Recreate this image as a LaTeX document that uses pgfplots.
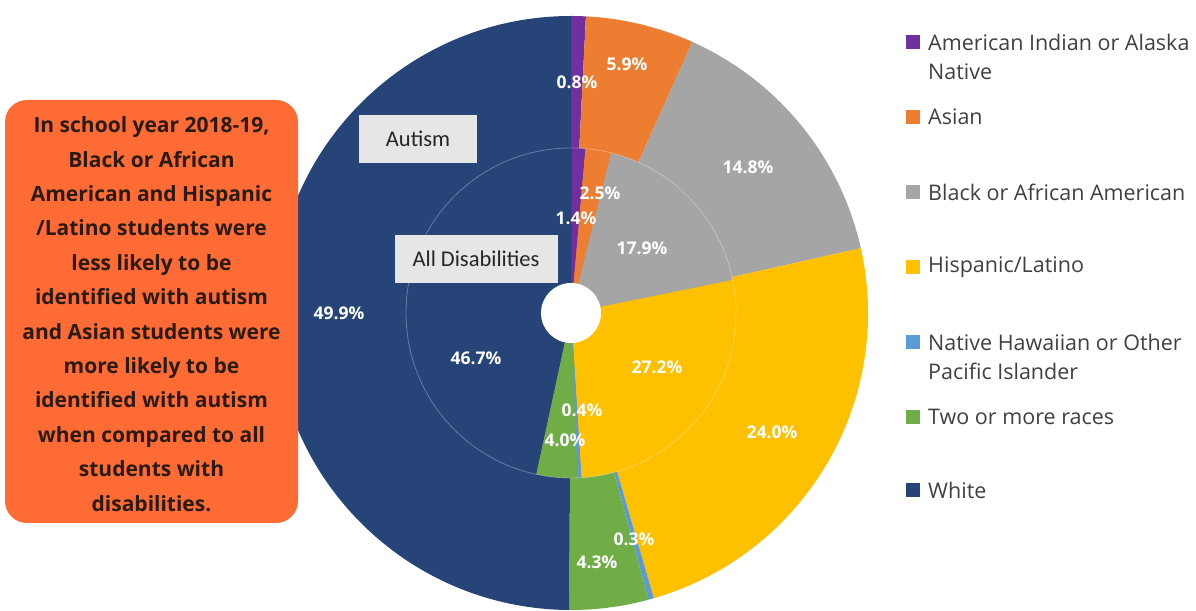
\documentclass[border=0pt]{standalone}
\usepackage{pgfplots}
\pgfplotsset{compat=1.18}
\usepackage{fontspec}
\setmainfont{Open Sans}
\newfontfamily\calib{Carlito}
\definecolor{cAIAN}{HTML}{7030A0}
\definecolor{cAsian}{HTML}{ED7D31}
\definecolor{cBlack}{HTML}{A5A5A5}
\definecolor{cHisp}{HTML}{FFC000}
\definecolor{cNHPI}{HTML}{5B9BD5}
\definecolor{cTwo}{HTML}{70AD47}
\definecolor{cWhite}{HTML}{264478}
\definecolor{boxorange}{HTML}{FF6B35}
\definecolor{boxtext}{HTML}{2A1B12}
\definecolor{legtext}{HTML}{404040}
\definecolor{lblbox}{HTML}{E6E6E6}
% Autism (outer ring) and All Disabilities (inner pie), percent
\def\outerdata{0.8/cAIAN,5.9/cAsian,14.8/cBlack,24.0/cHisp,0.3/cNHPI,4.3/cTwo,49.9/cWhite}
\def\innerdata{1.4/cAIAN,2.5/cAsian,17.9/cBlack,27.2/cHisp,0.4/cNHPI,4.0/cTwo,46.7/cWhite}
\begin{document}
\begin{tikzpicture}
\begin{axis}[x=1pt,y=1pt,xmin=0,xmax=1196,ymin=0,ymax=610,hide axis,clip=false,scale only axis]
\path (axis cs:0,0) rectangle (axis cs:1196,610);
% outer ring
\gdef\cum{0}
\foreach \v/\c in \outerdata {
  \pgfmathsetmacro\a{90-3.6*\cum}
  \pgfmathsetmacro\b{90-3.6*(\cum+\v)}
  \edef\temp{\noexpand\fill[\c] (axis cs:571,297) -- ++(\a:297pt) arc[start angle=\a, end angle=\b, radius=297pt] -- cycle;}
  \temp
  \pgfmathsetmacro\newcum{\cum+\v}
  \global\let\cum\newcum
}
% inner pie
\gdef\cum{0}
\foreach \v/\c in \innerdata {
  \pgfmathsetmacro\a{90-3.6*\cum}
  \pgfmathsetmacro\b{90-3.6*(\cum+\v)}
  \edef\temp{\noexpand\fill[\c] (axis cs:571,297) -- ++(\a:165pt) arc[start angle=\a, end angle=\b, radius=165pt] -- cycle;}
  \temp
  \pgfmathsetmacro\newcum{\cum+\v}
  \global\let\cum\newcum
}
\draw[white, opacity=0.3, line width=0.8pt] (axis cs:571,297) circle[radius=165pt];
\fill[white] (axis cs:571,297) circle[radius=30pt];
% data labels
\begin{scope}[every node/.style={text=white, font=\fontsize{17.5}{19}\selectfont\bfseries, inner sep=0pt}]
\node at (axis cs:577,528) {0.8\%};
\node at (axis cs:627,546) {5.9\%};
\node at (axis cs:748,443) {14.8\%};
\node at (axis cs:772,178) {24.0\%};
\node at (axis cs:634,71) {0.3\%};
\node at (axis cs:597,48) {4.3\%};
\node at (axis cs:339,297) {49.9\%};
\node at (axis cs:600,417) {2.5\%};
\node at (axis cs:576,392) {1.4\%};
\node at (axis cs:642,362) {17.9\%};
\node at (axis cs:657,243) {27.2\%};
\node at (axis cs:582,200) {0.4\%};
\node at (axis cs:565,170) {4.0\%};
\node at (axis cs:476,252) {46.7\%};
\end{scope}
% ring labels
\fill[lblbox] (axis cs:359,495) rectangle (axis cs:477,447);
\node[text=black!85, font=\calib\fontsize{22.5}{24}\selectfont] at (axis cs:418,471) {Autism};
\fill[lblbox] (axis cs:395,375) rectangle (axis cs:558,327);
\node[text=black!85, font=\calib\fontsize{22.5}{24}\selectfont] at (axis cs:476,351) {All Disabilities};
% annotation box
\fill[boxorange, rounded corners=22pt] (axis cs:5,87) rectangle (axis cs:298,510);
\node[text=boxtext, align=center, font=\fontsize{21}{34.4}\selectfont\bfseries] at (axis cs:151.5,296) {In school year 2018-19,\\Black or African\\American and Hispanic\\/Latino students were\\less likely to be\\identified with autism\\and Asian students were\\more likely to be\\identified with autism\\when compared to all\\students with\\disabilities.};
% legend
\begin{scope}[every node/.style={text=legtext, font=\fontsize{21.5}{24}\selectfont, anchor=west, inner sep=0pt}]
\fill[cAIAN] (axis cs:906,561) rectangle (axis cs:920,575);
\node at (axis cs:928,568) {American Indian or Alaska};
\node at (axis cs:928,538) {Native};
\fill[cAsian] (axis cs:906,486) rectangle (axis cs:920,500);
\node at (axis cs:928,493) {Asian};
\fill[cBlack] (axis cs:906,411) rectangle (axis cs:920,425);
\node at (axis cs:928,418) {Black or African American};
\fill[cHisp] (axis cs:906,336) rectangle (axis cs:920,350);
\node at (axis cs:928,343) {Hispanic/Latino};
\fill[cNHPI] (axis cs:906,261) rectangle (axis cs:920,275);
\node at (axis cs:928,268) {Native Hawaiian or Other};
\node at (axis cs:928,239) {Pacific Islander};
\fill[cTwo] (axis cs:906,186) rectangle (axis cs:920,200);
\node at (axis cs:928,193) {Two or more races};
\fill[cWhite] (axis cs:906,113) rectangle (axis cs:920,127);
\node at (axis cs:928,120) {White};
\end{scope}
\end{axis}
\end{tikzpicture}
\end{document}
